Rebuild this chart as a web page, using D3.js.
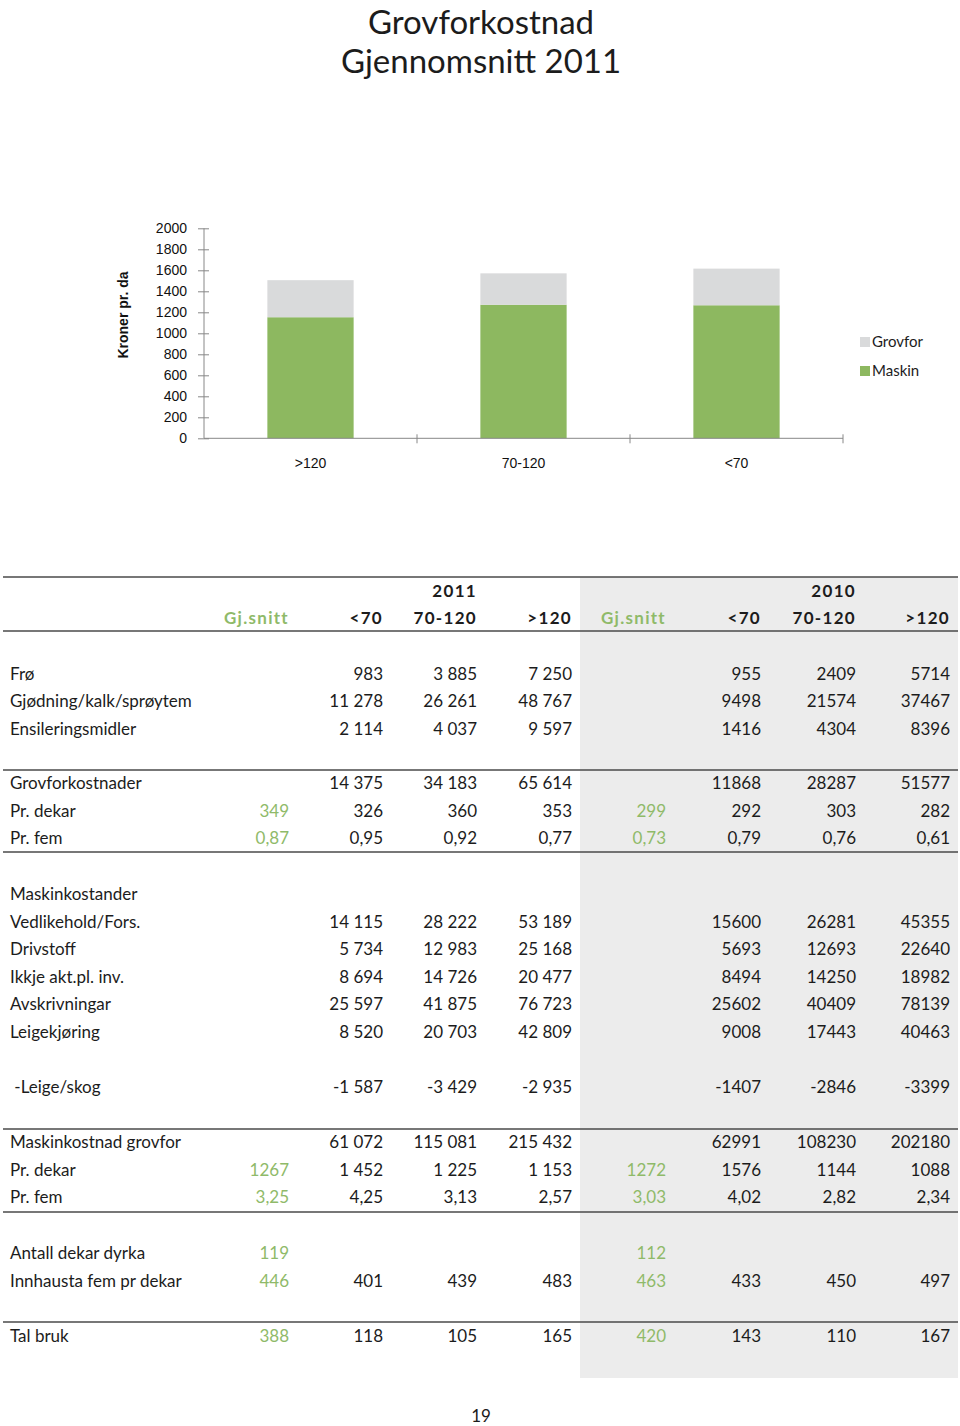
<!DOCTYPE html>
<html>
<head>
<meta charset="utf-8">
<script src="https://cdn.jsdelivr.net/npm/d3@7"></script>
<style>
  html, body { margin: 0; padding: 0; background: #fff; }
  svg { display: block; }
</style>
</head>
<body>
<svg id="chart" width="960" height="1426"></svg>
<script>
// ---------- DATA ----------
const titleLines = ["Grovforkostnad", "Gjennomsnitt 2011"];
const categories = [">120", "70-120", "<70"];
const maskin = [1153, 1272, 1267];
const grovfor = [353, 299, 349];
const yTicks = [0, 200, 400, 600, 800, 1000, 1200, 1400, 1600, 1800, 2000];
const seriesNames = ["Grovfor", "Maskin"];
const yAxisTitle = "Kroner pr. da";

const yearHeaders = ["2011", "2010"];
const colHeaders = ["Gj.snitt", "<70", "70-120", ">120", "Gj.snitt", "<70", "70-120", ">120"];

const rowsInnsats = [
  ["Frø", "", "983", "3 885", "7 250", "", "955", "2409", "5714"],
  ["Gjødning/kalk/sprøytem", "", "11 278", "26 261", "48 767", "", "9498", "21574", "37467"],
  ["Ensileringsmidler", "", "2 114", "4 037", "9 597", "", "1416", "4304", "8396"]
];
const rowsGrovfor = [
  ["Grovforkostnader", "", "14 375", "34 183", "65 614", "", "11868", "28287", "51577"],
  ["Pr. dekar", "349", "326", "360", "353", "299", "292", "303", "282"],
  ["Pr. fem", "0,87", "0,95", "0,92", "0,77", "0,73", "0,79", "0,76", "0,61"]
];
const rowsMaskin = [
  ["Maskinkostander", "", "", "", "", "", "", "", ""],
  ["Vedlikehold/Fors.", "", "14 115", "28 222", "53 189", "", "15600", "26281", "45355"],
  ["Drivstoff", "", "5 734", "12 983", "25 168", "", "5693", "12693", "22640"],
  ["Ikkje akt.pl. inv.", "", "8 694", "14 726", "20 477", "", "8494", "14250", "18982"],
  ["Avskrivningar", "", "25 597", "41 875", "76 723", "", "25602", "40409", "78139"],
  ["Leigekjøring", "", "8 520", "20 703", "42 809", "", "9008", "17443", "40463"]
];
const rowsLeige = [
  [" -Leige/skog", "", "-1 587", "-3 429", "-2 935", "", "-1407", "-2846", "-3399"]
];
const rowsMaskinSum = [
  ["Maskinkostnad grovfor", "", "61 072", "115 081", "215 432", "", "62991", "108230", "202180"],
  ["Pr. dekar", "1267", "1 452", "1 225", "1 153", "1272", "1576", "1144", "1088"],
  ["Pr. fem", "3,25", "4,25", "3,13", "2,57", "3,03", "4,02", "2,82", "2,34"]
];
const rowsAreal = [
  ["Antall dekar dyrka", "119", "", "", "", "112", "", "", ""],
  ["Innhausta fem pr dekar", "446", "401", "439", "483", "463", "433", "450", "497"]
];
const rowsBruk = [
  ["Tal bruk", "388", "118", "105", "165", "420", "143", "110", "167"]
];
const pageNumber = "19";

// ---------- STYLE ----------
const GREEN = "#8db860";
const GREEN_TEXT = "#8fba69";
const GREY_BAR = "#d9dadb";
const GREY_BG = "#ececec";
const TEXT = "#1c1c1c";
const HUMAN = "Lato, 'Open Sans', sans-serif";
const ARIAL = "'Liberation Sans', Arial, sans-serif";

const svg = d3.select("#chart");

// ---------- TITLE ----------
svg.selectAll("text.title").data(titleLines).join("text")
  .attr("class", "title")
  .attr("x", 481).attr("y", (d, i) => i === 0 ? 34 : 73)
  .attr("text-anchor", "middle")
  .attr("font-family", HUMAN).attr("font-size", 33)
  .attr("fill", TEXT)
  .text(d => d);

// ---------- BAR CHART ----------
const x = d3.scaleBand().domain(categories).range([204, 843]).padding(0);
const y = d3.scaleLinear().domain([0, 2000]).range([438.3, 228.3]);

const stackData = categories.map((c, i) => ({ cat: c, Maskin: maskin[i], Grovfor: grovfor[i] }));
const stack = d3.stack().keys(["Maskin", "Grovfor"])(stackData);
const colors = { Maskin: GREEN, Grovfor: GREY_BAR };
const barW = x.bandwidth() * 0.405;

svg.append("g").selectAll("g").data(stack).join("g")
  .attr("fill", s => colors[s.key])
  .selectAll("rect").data(s => s).join("rect")
  .attr("x", d => x(d.data.cat) + (x.bandwidth() - barW) / 2)
  .attr("width", barW)
  .attr("y", d => y(d[1]))
  .attr("height", d => y(d[0]) - y(d[1]));

// y axis
const yAxis = svg.append("g").attr("transform", "translate(204,0)")
  .call(d3.axisLeft(y).tickValues(yTicks).tickSize(6).tickPadding(11).tickFormat(d3.format("d")));
yAxis.select(".domain").attr("stroke", "#888").attr("d", `M0,${y(2000)}V${y(0)}`);
yAxis.selectAll(".tick line").attr("stroke", "#888").attr("x1", -6).attr("x2", 5);
yAxis.selectAll(".tick text").attr("font-family", ARIAL).attr("font-size", 14).attr("fill", "#111");

// x axis
const xAxis = svg.append("g").attr("transform", `translate(0,${y(0)})`)
  .call(d3.axisBottom(x).tickSize(0).tickFormat(""));
xAxis.select(".domain").attr("stroke", "#888").attr("d", `M204,0H843`);
xAxis.selectAll(".tick").remove();
const bounds = categories.map(c => x(c) + x.bandwidth());
xAxis.selectAll("line.sep").data(bounds).join("line")
  .attr("class", "sep")
  .attr("x1", d => d).attr("x2", d => d).attr("y1", -4).attr("y2", 5)
  .attr("stroke", "#888");

svg.selectAll("text.cat").data(categories).join("text")
  .attr("class", "cat")
  .attr("x", d => x(d) + x.bandwidth() / 2)
  .attr("y", 468)
  .attr("text-anchor", "middle")
  .attr("font-family", ARIAL).attr("font-size", 14).attr("fill", "#111")
  .text(d => d);

svg.append("text")
  .attr("transform", "translate(128,315) rotate(-90)")
  .attr("text-anchor", "middle")
  .attr("font-family", ARIAL).attr("font-size", 14).attr("font-weight", "bold")
  .attr("fill", "#111")
  .text(yAxisTitle);

// legend
const legend = svg.append("g").selectAll("g").data(seriesNames).join("g")
  .attr("transform", (d, i) => `translate(860,${337 + i * 29})`);
legend.append("rect").attr("width", 10).attr("height", 10)
  .attr("fill", d => d === "Maskin" ? GREEN : GREY_BAR);
legend.append("text").attr("x", 12).attr("y", 10)
  .attr("font-family", HUMAN).attr("font-size", 15).attr("fill", TEXT)
  .text(d => d);

// ---------- TABLE ----------
const tbl = svg.append("g");
const tableTop = 577, tableBottom = 1378;
tbl.append("rect").attr("x", 580).attr("y", tableTop).attr("width", 378)
  .attr("height", tableBottom - tableTop).attr("fill", GREY_BG);

const colRight = [289, 383, 477, 572, 666, 761, 856, 950];
const FS = 17;

// header
tbl.selectAll("text.year").data(yearHeaders).join("text")
  .attr("class", "year")
  .attr("x", (d, i) => colRight[i === 0 ? 2 : 6]).attr("y", 597)
  .attr("text-anchor", "end")
  .attr("font-family", HUMAN).attr("font-weight", "bold").attr("font-size", FS)
  .attr("letter-spacing", 1.3)
  .attr("fill", TEXT).text(d => d);
tbl.selectAll("text.colh").data(colHeaders).join("text")
  .attr("class", "colh")
  .attr("x", (d, i) => colRight[i]).attr("y", 624)
  .attr("text-anchor", "end")
  .attr("font-family", HUMAN).attr("font-weight", "bold").attr("font-size", FS)
  .attr("letter-spacing", 1.3)
  .attr("fill", (d, i) => (i === 0 || i === 4) ? GREEN_TEXT : TEXT).text(d => d);

// body
const groups = [
  { rows: rowsInnsats, ys: [680, 707, 735] },
  { rows: rowsGrovfor, ys: [789, 817, 844] },
  { rows: rowsMaskin, ys: [900, 928, 955, 983, 1010, 1038] },
  { rows: rowsLeige, ys: [1093] },
  { rows: rowsMaskinSum, ys: [1148, 1176, 1203] },
  { rows: rowsAreal, ys: [1259, 1287] },
  { rows: rowsBruk, ys: [1342] }
];
const allRows = [];
groups.forEach(g => g.rows.forEach((r, i) => allRows.push({ r, y: g.ys[i] })));

const rowG = tbl.selectAll("g.row").data(allRows).join("g").attr("class", "row");
rowG.append("text")
  .attr("x", 10).attr("y", d => d.y)
  .attr("font-family", HUMAN).attr("font-size", FS).attr("fill", TEXT)
  .attr("xml:space", "preserve")
  .text(d => d.r[0]);
rowG.selectAll("text.val").data(d => d.r.slice(1).map((v, i) => ({ v, i, y: d.y }))).join("text")
  .attr("class", "val")
  .attr("x", d => colRight[d.i]).attr("y", d => d.y)
  .attr("text-anchor", "end")
  .attr("font-family", HUMAN).attr("font-size", FS)
  .attr("fill", d => (d.i === 0 || d.i === 4) ? GREEN_TEXT : TEXT)
  .text(d => d.v);

// rules
const ruleYs = [577, 631, 770, 852, 1129, 1212, 1322];
tbl.selectAll("line.rule").data(ruleYs).join("line")
  .attr("class", "rule")
  .attr("x1", 3).attr("x2", 958).attr("y1", d => d).attr("y2", d => d)
  .attr("stroke", "#4a4a4a").attr("stroke-width", 1.6);

svg.append("text").attr("x", 481).attr("y", 1422).attr("text-anchor", "middle")
  .attr("font-family", HUMAN).attr("font-size", 17).attr("fill", TEXT)
  .text(pageNumber);
</script>
</body>
</html>
